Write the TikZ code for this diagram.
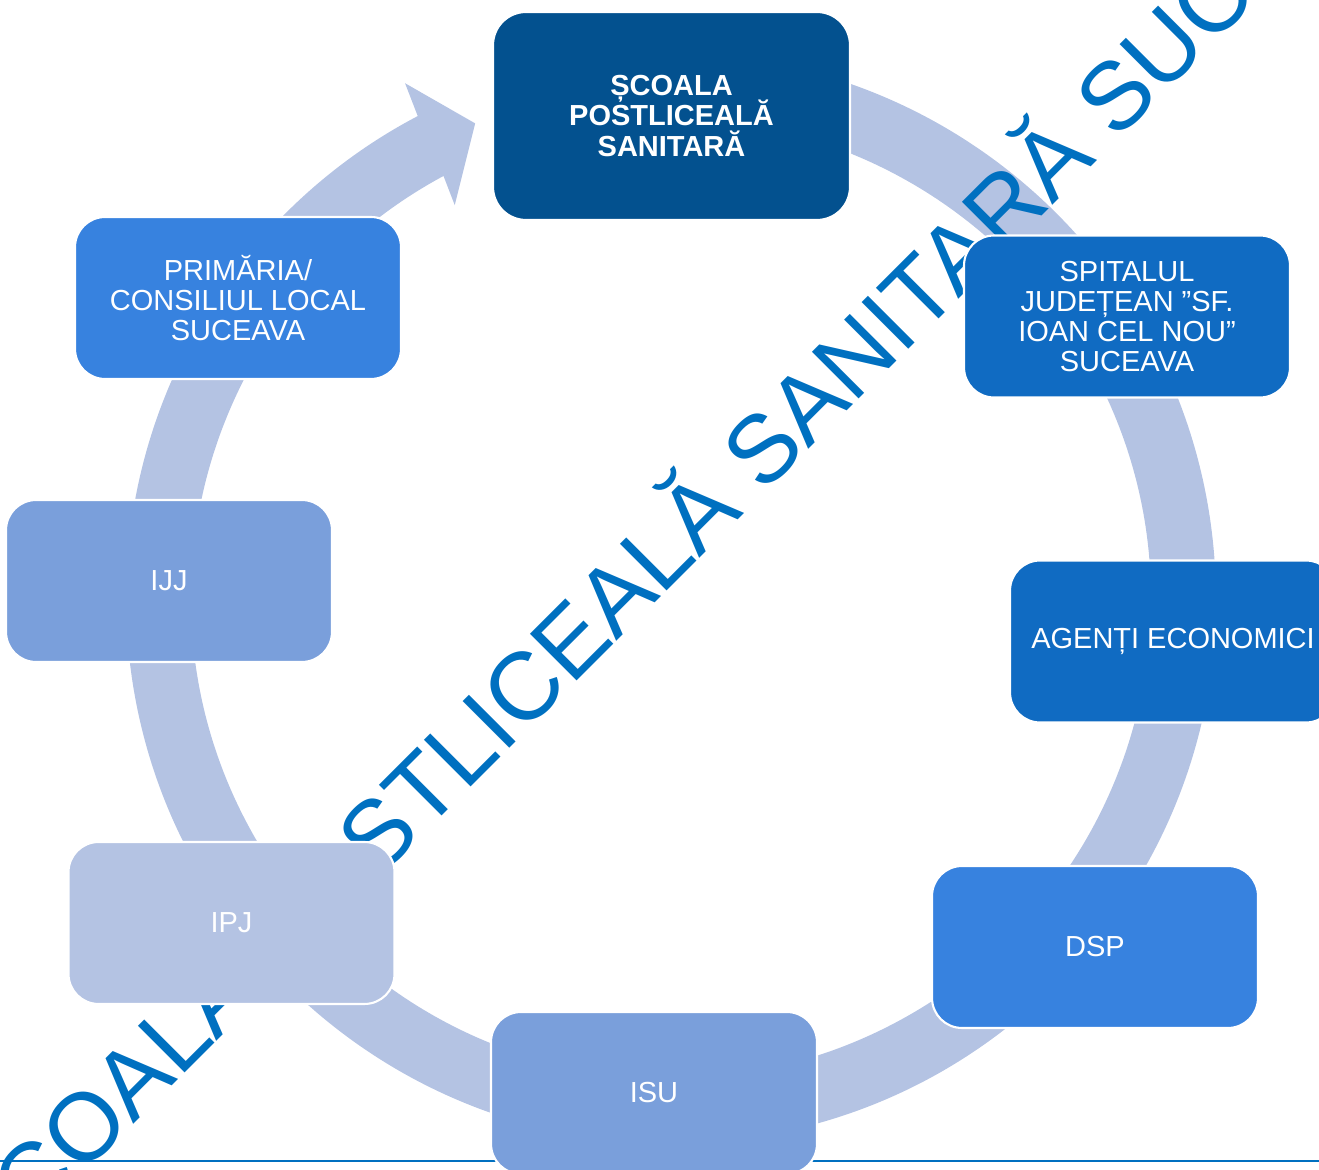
\documentclass[tikz,border=0pt]{standalone}
\usepackage{fontspec}
\setmainfont{Liberation Sans}
\usetikzlibrary{calc}
\definecolor{ringc}{HTML}{B4C3E3}
\definecolor{cdark}{HTML}{03518F}
\definecolor{cmid}{HTML}{106BC2}
\definecolor{cbright}{HTML}{3782DF}
\definecolor{csoft}{HTML}{7A9FDB}
\definecolor{cpale}{HTML}{B4C3E3}
\definecolor{wmblue}{HTML}{0070C0}
\AtBeginDocument{\setlength{\lineskiplimit}{-20pt}}
\begin{document}
\begin{tikzpicture}[x=0.02cm,y=0.02cm,
  box/.style={rounded corners=0.6cm, draw=white, line width=1.2pt,
    minimum width=6.52cm, minimum height=3.24cm, inner sep=0pt,
    text=white, align=center, font=\fontsize{16.5}{17.1}\selectfont},
  ring/.style={fill=ringc},
  watermark/.style={rotate=45, anchor=base west, inner sep=0pt, text=wmblue,
    font=\fontsize{54.6}{56}\selectfont},
  rule/.style={draw=wmblue, line width=0.04cm}
]
\useasboundingbox (0,0) rectangle (1319,1170);
\coordinate (C) at (671,571.5);
% ring with arrow head
\fill[ring] ($(C)+(95:10.9cm)$) arc[start angle=95, end angle=-242.3, radius=10.9cm]
  -- ($(C)+(117.3:11.6cm)$) -- ($(C)+(112.4:10.28cm)$) -- ($(C)+(118.8:8.98cm)$)
  -- ($(C)+(118.3:9.6cm)$) arc[start angle=-241.7, end angle=95, radius=9.6cm] -- cycle;
% watermark
\node[watermark] (wmk) at (-13.3,-101.4) {ȘCOALA POSTLICEALĂ SANITARĂ SUCEAVA};
% bottom rule
\coordinate (L1) at (0,9);
\coordinate (L2) at (1319,9);
\draw[rule] (L1) -- (L2);
% boxes
\node[box, fill=cdark, minimum width=7.14cm, minimum height=4.16cm, rounded corners=0.66cm,
  font=\fontsize{16.5}{17.1}\selectfont\bfseries] (scoala) at (671.5,1054) {ȘCOALA\\POSTLICEALĂ\\SANITARĂ};
\node[box, fill=cmid] (spital) at (1127,853.5) {SPITALUL\\JUDEȚEAN ”SF.\\IOAN CEL NOU”\\SUCEAVA};
\node[box, fill=cmid] (agenti) at (1173,528.5) {AGENȚI ECONOMICI};
\node[box, fill=cbright] (dsp) at (1095,223) {DSP};
\node[box, fill=csoft] (isu) at (654,77) {ISU};
\node[box, fill=cpale] (ipj) at (231.5,247) {IPJ};
\node[box, fill=csoft] (ijj) at (169,589) {IJJ};
\node[box, fill=cbright] (prim) at (238,872) {PRIMĂRIA/\\CONSILIUL LOCAL\\SUCEAVA};
\end{tikzpicture}
\end{document}
